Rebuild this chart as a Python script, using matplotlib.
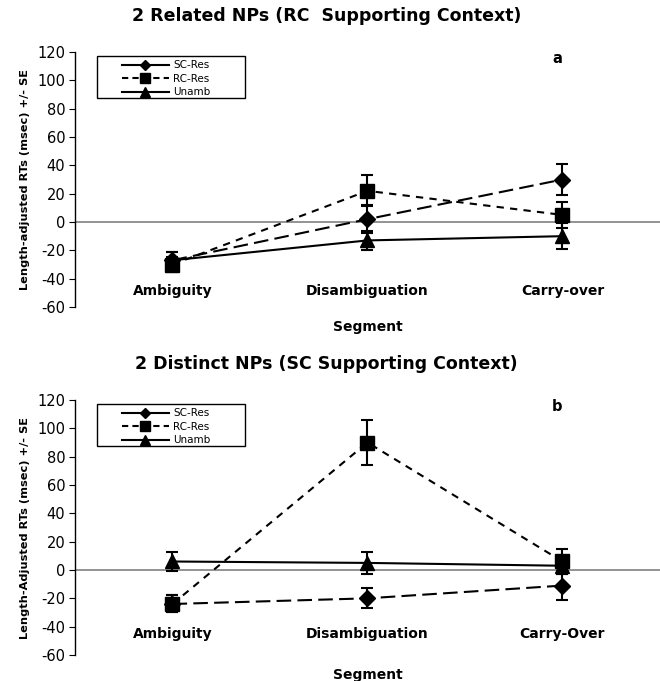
import numpy as np
import matplotlib
matplotlib.use("Agg")
import matplotlib.pyplot as plt
from matplotlib.lines import Line2D
from matplotlib.patches import Rectangle

# segments on the category axis
segments_a = ["Ambiguity", "Disambiguation", "Carry-over"]
segments_b = ["Ambiguity", "Disambiguation", "Carry-Over"]

# panel a: 2 related NPs (RC supporting context)
sc_res_a = [-27, 2, 30]
sc_err_a = [6, 10, 11]
rc_res_a = [-30, 22, 5]
rc_err_a = [5, 11, 9]
unamb_a = [-27, -13, -10]
unamb_err_a = [6, 7, 9]

# panel b: 2 distinct NPs (SC supporting context)
sc_res_b = [-24, -20, -11]
sc_err_b = [6, 7, 10]
rc_res_b = [-24, 90, 6]
rc_err_b = [6, 16, 9]
unamb_b = [6, 5, 3]
unamb_err_b = [7, 8, 6]

plt.rcParams["font.family"] = "DejaVu Sans"
plt.rcParams["axes.unicode_minus"] = False

fig = plt.figure(figsize=(6.6, 6.81), dpi=100)
ax_a = fig.add_axes([0.1136, 0.5492, 0.8864, 0.3744])
ax_b = fig.add_axes([0.1136, 0.0382, 0.8864, 0.3744])


def draw_panel(ax, cats, sc, sc_e, rc, rc_e, un, un_e, title, ylabel, letter, lab_y):
    x = np.arange(len(cats))
    ax.axhline(0, color="#808080", lw=1.2, zorder=1)
    common = dict(color="black", lw=1.5, capsize=4, capthick=1.5, elinewidth=1.5, zorder=3)
    ax.errorbar(x, sc, yerr=sc_e, marker="D", ms=8, dashes=(7, 3), **common)
    ax.errorbar(x, rc, yerr=rc_e, marker="s", ms=9.5, dashes=(3.5, 3), **common)
    ax.errorbar(x, un, yerr=un_e, marker="^", ms=9.5, linestyle="-", **common)

    ax.set_xlim(-0.5, 2.5)
    ax.set_ylim(-60, 120)
    ax.set_yticks(range(-60, 121, 20))
    ax.set_xticks([])
    for s in ["top", "right", "bottom"]:
        ax.spines[s].set_visible(False)
    ax.spines["left"].set_linewidth(1.0)
    ax.tick_params(axis="y", direction="out", length=4, labelsize=10.5, pad=3)

    for xi, c in zip(x, cats):
        ax.text(xi, lab_y, c, ha="center", va="center", fontsize=10, fontweight="bold")

    ax.set_ylabel(ylabel, fontsize=8.2, fontweight="bold", labelpad=5)
    ax.set_title(title, fontsize=12.5, fontweight="bold", x=0.43, pad=22)
    ax.text(0.824, 0.975, letter, transform=ax.transAxes, fontsize=10.5,
            fontweight="bold", ha="center", va="center")
    ax.text(0.5, -0.08, "Segment", transform=ax.transAxes, fontsize=10,
            fontweight="bold", ha="center", va="center")

    # legend box like the original (wider than its contents)
    ax.add_patch(Rectangle((0.0376, 0.82), 0.253, 0.164, transform=ax.transAxes,
                           fill=False, edgecolor="black", lw=1.0, zorder=4))
    handles = [
        Line2D([], [], color="black", lw=1.5, marker="D", ms=5.5),
        Line2D([], [], color="black", lw=1.5, marker="s", ms=6.5, dashes=(3, 2)),
        Line2D([], [], color="black", lw=1.5, marker="^", ms=6.5),
    ]
    ax.legend(handles, ["SC-Res", "RC-Res", "Unamb"], loc="upper left",
              bbox_to_anchor=(0.080, 0.968), fontsize=7.5, frameon=False,
              handlelength=4.5, handletextpad=0.45, labelspacing=0.35,
              borderpad=0, borderaxespad=0)


draw_panel(ax_a, segments_a, sc_res_a, sc_err_a, rc_res_a, rc_err_a, unamb_a, unamb_err_a,
           "2 Related NPs (RC  Supporting Context)", "Length-adjusted RTs (msec) +/- SE", "a", -49)
draw_panel(ax_b, segments_b, sc_res_b, sc_err_b, rc_res_b, rc_err_b, unamb_b, unamb_err_b,
           "2 Distinct NPs (SC Supporting Context)", "Length-Adjusted RTs (msec) +/- SE", "b", -45)

fig.savefig("out.png", dpi=100)
